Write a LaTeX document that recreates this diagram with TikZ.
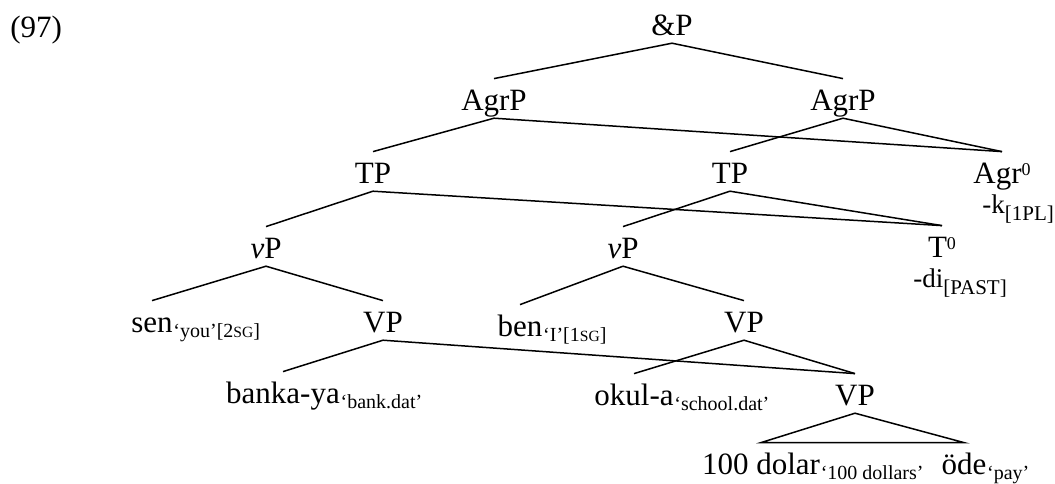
\documentclass[tikz,border=0pt]{standalone}
\usepackage{fontspec}
\setmainfont{Liberation Serif}
\newcommand{\glfont}{\fontsize{10}{12}\selectfont}
\newcommand{\smc}[1]{{\fontsize{7.8}{9}\selectfont #1}}
\newcommand{\sups}[1]{\raisebox{4pt}{\fontsize{9}{10}\selectfont #1}}
\newcommand{\affx}[2]{{\fontsize{13.5}{16}\selectfont #1\raisebox{-3.5pt}{\fontsize{10.5}{12}\selectfont #2}}}

\tikzset{
  cat/.style={inner sep=0pt, anchor=base, text height=15.5pt, text depth=3.9pt},
  gl/.style={inner sep=0pt, anchor=base west, yshift=-2.5pt, font=\glfont},
  branch/.style={line width=0.75pt},
}

\begin{document}
\begin{tikzpicture}[x=0.5pt, y=-0.5pt, font=\fontsize{15.5}{18}\selectfont]
  \useasboundingbox (0,0) rectangle (1055,483);
  \node[inner sep=0pt, anchor=base west] (num) at (10,37) {(97)};

  % categories
  \node[cat] (amp) at (672,35) {\&P};
  \node[cat] (agrpA) at (494,110) {AgrP};
  \node[cat] (agrpB) at (843,110) {AgrP};
  \node[cat] (tpA) at (373,183) {TP};
  \node[cat] (tpB) at (730,183) {TP};
  \node[cat] (agrh) at (1002,183) {Agr\sups{0}};
  \node[cat] (th) at (942,257) {T\sups{0}};
  \node[cat] (vpA) at (266,258) {\textit{v}P};
  \node[cat] (vpB) at (623,258) {\textit{v}P};
  \node[cat] (VPa) at (383,332) {VP};
  \node[cat] (VPb) at (744,332) {VP};
  \node[cat] (VPc) at (855,405) {VP};

  % words
  \node[cat] (sen) at (152,332) {sen};
  \node[cat] (ben) at (520,336) {ben};
  \node[cat] (banka) at (283,403) {banka-ya};
  \node[cat] (okul) at (634,405) {okul-a};
  \node[cat] (dolar) at (761,474) {100 dolar};
  \node[cat] (ode) at (964,474) {öde};

  \node[gl] (senG) at (sen.base east) {‘you’[2\smc{SG}]};
  \node[gl] (benG) at (ben.base east) {‘I’[1\smc{SG}]};
  \node[gl] (bankaG) at (banka.base east) {‘bank.dat’};
  \node[gl] (okulG) at (okul.base east) {‘school.dat’};
  \node[gl] (dolarG) at (dolar.base east) {‘100 dollars’};
  \node[gl] (odeG) at (ode.base east) {‘pay’};

  \node[inner sep=0pt, anchor=base west] (kaf) at (982,213) {\affx{-k}{[1PL]}};
  \node[inner sep=0pt, anchor=base west] (diaf) at (913,287) {\affx{-di}{[PAST]}};

  % branches
  \draw[branch] (amp.south) -- (agrpA.north);
  \draw[branch] (amp.south) -- (agrpB.north);
  \draw[branch] (agrpA.south) -- (tpA.north);
  \draw[branch] (agrpA.south) -- (agrh.north);
  \draw[branch] (agrpB.south) -- (tpB.north);
  \draw[branch] (agrpB.south) -- (agrh.north);
  \draw[branch] (tpA.south) -- (vpA.north);
  \draw[branch] (tpA.south) -- (th.north);
  \draw[branch] (tpB.south) -- (vpB.north);
  \draw[branch] (tpB.south) -- (th.north);
  \draw[branch] (vpA.south) -- (sen.north);
  \draw[branch] (vpA.south) -- (VPa.north);
  \draw[branch] (vpB.south) -- (ben.north);
  \draw[branch] (vpB.south) -- (VPb.north);
  \draw[branch] (VPa.south) -- (banka.north);
  \draw[branch] (VPa.south) -- (VPc.north);
  \draw[branch] (VPb.south) -- (okul.north);
  \draw[branch] (VPb.south) -- (VPc.north);
  \draw[branch] (VPc.south) -- (dolar.north) -- (ode.north) -- cycle;
\end{tikzpicture}
\end{document}
